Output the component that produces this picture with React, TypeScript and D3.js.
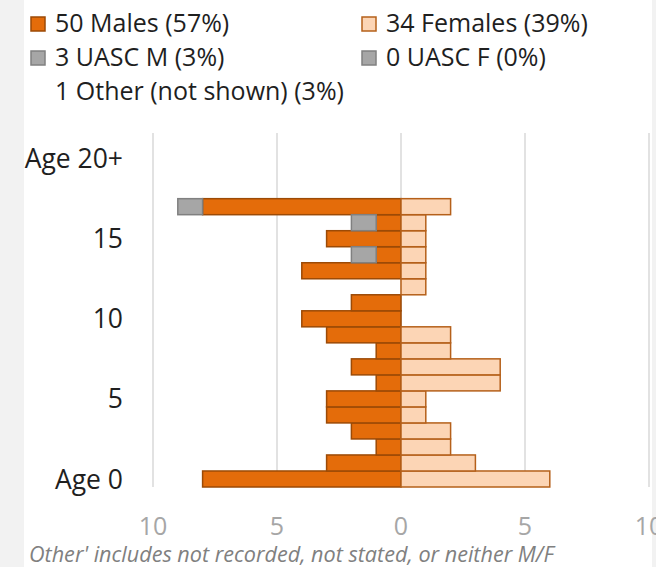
import * as d3 from "d3";
import { useEffect, useRef } from "react";

// ages 0..20+ (bottom to top)
const ages = ["Age 0", "1", "2", "3", "4", "5", "6", "7", "8", "9", "10", "11", "12", "13", "14", "15", "16", "17", "18", "19", "Age 20+"];
const males = [8, 3, 1, 2, 3, 3, 1, 2, 1, 3, 4, 2, 0, 4, 1, 3, 1, 8, 0, 0, 0];
const females = [6, 3, 2, 2, 1, 1, 4, 4, 2, 2, 0, 0, 1, 1, 1, 1, 1, 2, 0, 0, 0];
const uascM = [0, 0, 0, 0, 0, 0, 0, 0, 0, 0, 0, 0, 0, 0, 1, 0, 1, 1, 0, 0, 0];
const uascF = [0, 0, 0, 0, 0, 0, 0, 0, 0, 0, 0, 0, 0, 0, 0, 0, 0, 0, 0, 0, 0];
const ageLabels = ["Age 0", "5", "10", "15", "Age 20+"];
const xTicks = [-10, -5, 0, 5, 10];

const legendItems = [
  { label: "50 Males (57%)", fill: "#E46C0A", stroke: "#9C4A06" },
  { label: "34 Females (39%)", fill: "#FCD5B5", stroke: "#B5601A" },
  { label: "3 UASC M (3%)", fill: "#A6A6A6", stroke: "#808080" },
  { label: "0 UASC F (0%)", fill: "#A6A6A6", stroke: "#808080" },
  { label: "1 Other (not shown) (3%)", fill: "none", stroke: "none" },
];
const footnote = "Other' includes not recorded, not stated, or neither M/F";

const W = 656;
const H = 567;
const FONT = "'Open Sans', 'Noto Sans', sans-serif";

export default function App() {
  const ref = useRef<SVGSVGElement>(null);

  useEffect(() => {
    draw();
  });

  function draw() {
    const svg = d3.select(ref.current);
    svg.selectAll("*").remove();

    // page background + white chart area
    svg.append("rect").attr("width", W).attr("height", H).attr("fill", "#F2F2F2");
    svg.append("rect").attr("x", 24).attr("y", 0).attr("width", 628).attr("height", H).attr("fill", "#fff");

    const x = d3.scaleLinear().domain([-10, 10]).range([153, 649]);
    const y = d3.scaleLinear().domain([-0.5, 21.6]).range([487, 133]);

    // gridlines
    svg
      .append("g")
      .selectAll("line")
      .data(xTicks)
      .enter()
      .append("line")
      .attr("x1", (d) => x(d))
      .attr("x2", (d) => x(d))
      .attr("y1", y(21.6))
      .attr("y2", y(-0.5))
      .attr("stroke", "#D9D9D9")
      .attr("stroke-width", 1.5);

    // x tick labels (absolute values)
    svg
      .append("g")
      .selectAll("text")
      .data(xTicks)
      .enter()
      .append("text")
      .attr("x", (d) => x(d))
      .attr("y", 535)
      .attr("text-anchor", "middle")
      .attr("font-family", FONT)
      .attr("font-size", 25)
      .attr("fill", "#A6A6A6")
      .text((d) => Math.abs(d));

    // y category labels
    svg
      .append("g")
      .selectAll("text")
      .data(ageLabels)
      .enter()
      .append("text")
      .attr("x", 123)
      .attr("y", (d) => y(ages.indexOf(d)))
      .attr("dy", "0.36em")
      .attr("text-anchor", "end")
      .attr("font-family", FONT)
      .attr("font-size", 26.5)
      .attr("fill", "#1F1F1F")
      .text((d) => d);

    const rows = ages.map((a, i) => ({ i, m: males[i], f: females[i], um: uascM[i], uf: uascF[i] }));
    const bars = svg.append("g");
    const band = (i: number) => ({ top: y(i + 0.5), h: y(i - 0.5) - y(i + 0.5) });

    function addBars(
      get: (r: (typeof rows)[0]) => [number, number],
      fill: string,
      stroke: string
    ) {
      bars
        .append("g")
        .selectAll("rect")
        .data(rows.filter((r) => get(r)[0] !== get(r)[1]))
        .enter()
        .append("rect")
        .attr("x", (r) => x(Math.min(...get(r))))
        .attr("width", (r) => Math.abs(x(get(r)[1]) - x(get(r)[0])))
        .attr("y", (r) => band(r.i).top)
        .attr("height", (r) => band(r.i).h)
        .attr("fill", fill)
        .attr("stroke", stroke)
        .attr("stroke-width", 1.5);
    }

    addBars((r) => [-r.m, 0], legendItems[0].fill, legendItems[0].stroke);
    addBars((r) => [-r.m - r.um, -r.m], legendItems[2].fill, legendItems[2].stroke);
    addBars((r) => [0, r.f], legendItems[1].fill, legendItems[1].stroke);
    addBars((r) => [r.f, r.f + r.uf], legendItems[3].fill, legendItems[3].stroke);

    // legend
    const legendPos = [
      [31, 32],
      [362, 32],
      [31, 66],
      [362, 66],
      [31, 100],
    ];
    const legend = svg.append("g");
    legendItems.forEach((item, i) => {
      const [lx, ly] = legendPos[i];
      if (item.fill !== "none") {
        legend
          .append("rect")
          .attr("x", lx)
          .attr("y", ly - 15)
          .attr("width", 14)
          .attr("height", 14)
          .attr("fill", item.fill)
          .attr("stroke", item.stroke)
          .attr("stroke-width", 1.5);
      }
      legend
        .append("text")
        .attr("x", lx + 24)
        .attr("y", ly)
        .attr("font-family", FONT)
        .attr("font-size", 25)
        .attr("fill", "#1F1F1F")
        .text(item.label);
    });

    // footnote
    svg
      .append("text")
      .attr("x", 29)
      .attr("y", 562)
      .attr("font-family", FONT)
      .attr("font-style", "italic")
      .attr("font-size", 21.6)
      .attr("fill", "#808080")
      .text(footnote);
  }

  return (
    <>
      <style>{`body{margin:0}`}</style>
      <svg width={W} height={H} ref={ref} style={{ display: "block" }}></svg>
    </>
  );
}
